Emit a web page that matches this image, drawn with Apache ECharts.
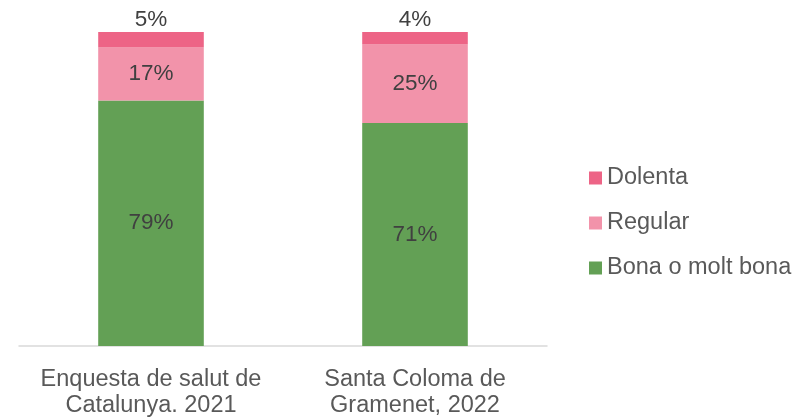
<!DOCTYPE html>
<html>
<head>
<meta charset="utf-8">
<script src="https://cdn.jsdelivr.net/npm/echarts@6/dist/echarts.min.js"></script>
<style>
  html, body { margin: 0; padding: 0; background: #fff; }
  #chart { width: 808px; height: 419px; }
</style>
</head>
<body>
<div id="chart"></div>
<script>
// categories and values (percent)
var categories = ['Enquesta de salut de\nCatalunya. 2021', 'Santa Coloma de\nGramenet, 2022'];
var bona = [79, 71];
var regular = [17, 25];
var dolenta = [5, 4];

// 100% stacked: each bar is scaled to its own total
var totals = categories.map(function (c, i) { return bona[i] + regular[i] + dolenta[i]; });
function share(arr) {
    return arr.map(function (v, i) { return { value: v / totals[i] * 100, raw: v }; });
}

var labelFont = 'Liberation Sans, Arial, sans-serif';
function pctLabel(p) { return p.data.raw + '%'; }

var chart = echarts.init(document.getElementById('chart'));

chart.setOption({
    animation: false,
    grid: { left: 19, right: 261, top: 32, bottom: 73 },
    legend: {
        orient: 'vertical',
        left: 589,
        top: 166,
        padding: 0,
        itemWidth: 13,
        itemHeight: 13,
        itemGap: 21,
        icon: 'rect',
        data: ['Dolenta', 'Regular', 'Bona o molt bona'],
        textStyle: { fontFamily: labelFont, fontSize: 23.5, color: '#595959', lineHeight: 23 }
    },
    xAxis: {
        type: 'category',
        data: categories,
        axisTick: { show: false },
        axisLine: { lineStyle: { color: '#d9d9d9', width: 1.5 } },
        axisLabel: { interval: 0, fontFamily: labelFont, fontSize: 23.5, color: '#595959', lineHeight: 26, margin: 21 }
    },
    yAxis: {
        type: 'value',
        min: 0,
        max: 100,
        show: false,
        splitLine: { show: false }
    },
    series: [
        {
            name: 'Bona o molt bona',
            type: 'bar',
            stack: 'total',
            barWidth: '40%',
            itemStyle: { color: '#63A055' },
            label: { show: true, position: 'inside', formatter: pctLabel, fontFamily: labelFont, fontSize: 22.5, color: '#404040' },
            data: share(bona)
        },
        {
            name: 'Regular',
            type: 'bar',
            stack: 'total',
            itemStyle: { color: '#F293AA' },
            label: { show: true, position: 'inside', formatter: pctLabel, fontFamily: labelFont, fontSize: 22.5, color: '#404040' },
            data: share(regular)
        },
        {
            name: 'Dolenta',
            type: 'bar',
            stack: 'total',
            itemStyle: { color: '#ED6486' },
            label: { show: true, position: 'top', distance: 1, formatter: pctLabel, fontFamily: labelFont, fontSize: 22.5, color: '#404040' },
            data: share(dolenta)
        }
    ]
});
</script>
</body>
</html>
